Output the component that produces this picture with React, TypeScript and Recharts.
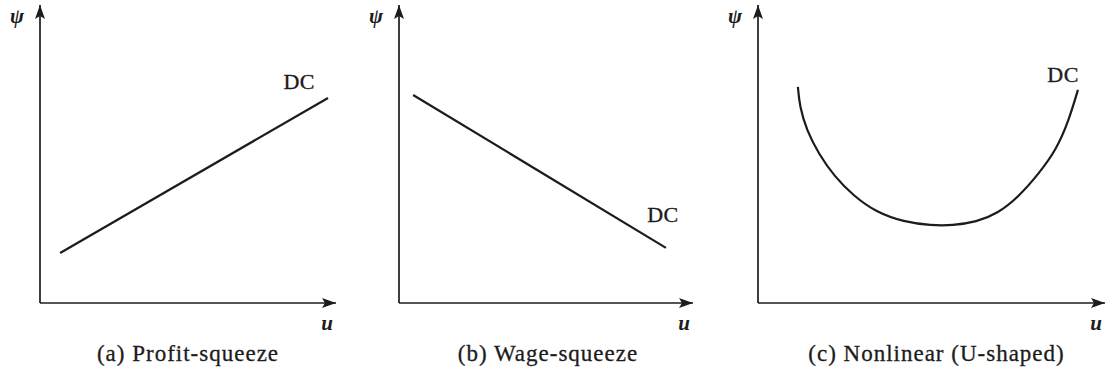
import React from 'react';
import { LineChart, Line, XAxis, YAxis } from 'recharts';

const panelTitles = ['(a) Profit-squeeze', '(b) Wage-squeeze', '(c) Nonlinear (U-shaped)'];
const curveName = 'DC';
const yAxisName = 'ψ';
const xAxisName = 'u';

const profitU = [0.68, 9.73];
const profitPsi = [1.68, 6.88];

const wageU = [0.48, 9.08];
const wagePsi = [6.98, 1.85];

const nonlinearU = [1.15, 1.2, 1.4, 1.75, 2.2, 2.75, 3.4, 4.2, 5.0, 5.6, 6.3, 6.9, 7.5, 8.1, 8.6, 8.95, 9.22];
const nonlinearPsi = [7.25, 6.6, 5.8, 5.0, 4.25, 3.6, 3.05, 2.72, 2.6, 2.6, 2.72, 3.0, 3.55, 4.35, 5.15, 6.1, 7.15];

const toRows = (u: number[], psi: number[]) => u.map((v, i) => ({ u: v, psi: psi[i] }));

const FONT = '"Liberation Serif", "Times New Roman", serif';
const INK = '#1c1c1c';

type PanelProps = {
  rows: { u: number; psi: number }[];
  title: string;
  margin: { top: number; left: number; right: number; bottom: number };
  curveType: 'linear' | 'basis';
  dc: { dx: number; dy: number; anchor: 'start' | 'middle' | 'end' };
  titleShift: number;
};

function XLabels(props: any) {
  const vb = props.viewBox || {};
  const { title, titleShift } = props;
  return (
    <g>
      <text x={vb.x + vb.width - 9} y={vb.y + 27} textAnchor="middle" fontFamily={FONT} fontStyle="italic" fontWeight={700} fontSize={21} fill={INK}>
        {xAxisName}
      </text>
      <text x={vb.x + vb.width / 2 + titleShift} y={vb.y + 58} textAnchor="middle" fontFamily={FONT} fontSize={23} letterSpacing={1} fill={INK} stroke={INK} strokeWidth={0.3}>
        {title}
      </text>
    </g>
  );
}

function YLabel(props: any) {
  const vb = props.viewBox || {};
  return (
    <text x={vb.x + vb.width - 23} y={vb.y + 18} textAnchor="middle" fontFamily={FONT} fontStyle="italic" fontWeight={700} fontSize={21} fill={INK}>
      {yAxisName}
    </text>
  );
}

function Panel({ rows, title, margin, curveType, dc, titleShift }: PanelProps) {
  const last = rows.length - 1;
  return (
    <div style={{ position: 'absolute', left: 0, top: 0 }}>
      <LineChart width={1105} height={374} data={rows} margin={margin}>
        <XAxis
          dataKey="u"
          type="number"
          domain={[0, 10]}
          tick={false}
          tickLine={false}
          height={1}
          axisLine={{ stroke: INK, strokeWidth: 1.7, markerEnd: 'url(#arrowHead)' } as any}
          label={{ content: (p: any) => <XLabels {...p} title={title} titleShift={titleShift} /> } as any}
        />
        <YAxis
          dataKey="psi"
          type="number"
          domain={[0, 10]}
          tick={false}
          tickLine={false}
          width={1}
          axisLine={{ stroke: INK, strokeWidth: 1.7, markerStart: 'url(#arrowHead)' } as any}
          label={{ content: (p: any) => <YLabel {...p} /> } as any}
        />
        <Line
          dataKey="psi"
          type={curveType}
          stroke={INK}
          strokeWidth={2.2}
          dot={false}
          isAnimationActive={false}
          label={(p: any) =>
            p.index === last ? (
              <text key="dc" x={p.x + dc.dx} y={p.y + dc.dy} textAnchor={dc.anchor} fontFamily={FONT} fontSize={22} letterSpacing={0.5} fill={INK} stroke={INK} strokeWidth={0.35}>
                {curveName}
              </text>
            ) : (
              <g key={`e${p.index}`} />
            )
          }
        />
      </LineChart>
    </div>
  );
}

export default function App() {
  return (
    <div style={{ position: 'absolute', left: 0, top: 0, width: 1105, height: 374, background: '#fff', overflow: 'hidden' }}>
      <svg width={0} height={0} style={{ position: 'absolute' }}>
        <defs>
          <marker id="arrowHead" viewBox="0 0 14 10" markerWidth={14} markerHeight={10} refX={14} refY={5} orient="auto-start-reverse" markerUnits="userSpaceOnUse">
            <path d="M0,0 L14,5 L0,10 L3,5 Z" fill={INK} />
          </marker>
        </defs>
      </svg>
      <Panel
        rows={toRows(profitU, profitPsi)}
        title={panelTitles[0]}
        margin={{ top: 5, left: 39, right: 769, bottom: 70 }}
        curveType="linear"
        dc={{ dx: -13, dy: -9, anchor: 'end' }}
        titleShift={0}
      />
      <Panel
        rows={toRows(wageU, wagePsi)}
        title={panelTitles[1]}
        margin={{ top: 5, left: 398, right: 412, bottom: 70 }}
        curveType="linear"
        dc={{ dx: -3, dy: -26, anchor: 'middle' }}
        titleShift={2}
      />
      <Panel
        rows={toRows(nonlinearU, nonlinearPsi)}
        title={panelTitles[2]}
        margin={{ top: 5, left: 757, right: 0, bottom: 70 }}
        curveType="basis"
        dc={{ dx: 1, dy: -8, anchor: 'end' }}
        titleShift={5}
      />
    </div>
  );
}
